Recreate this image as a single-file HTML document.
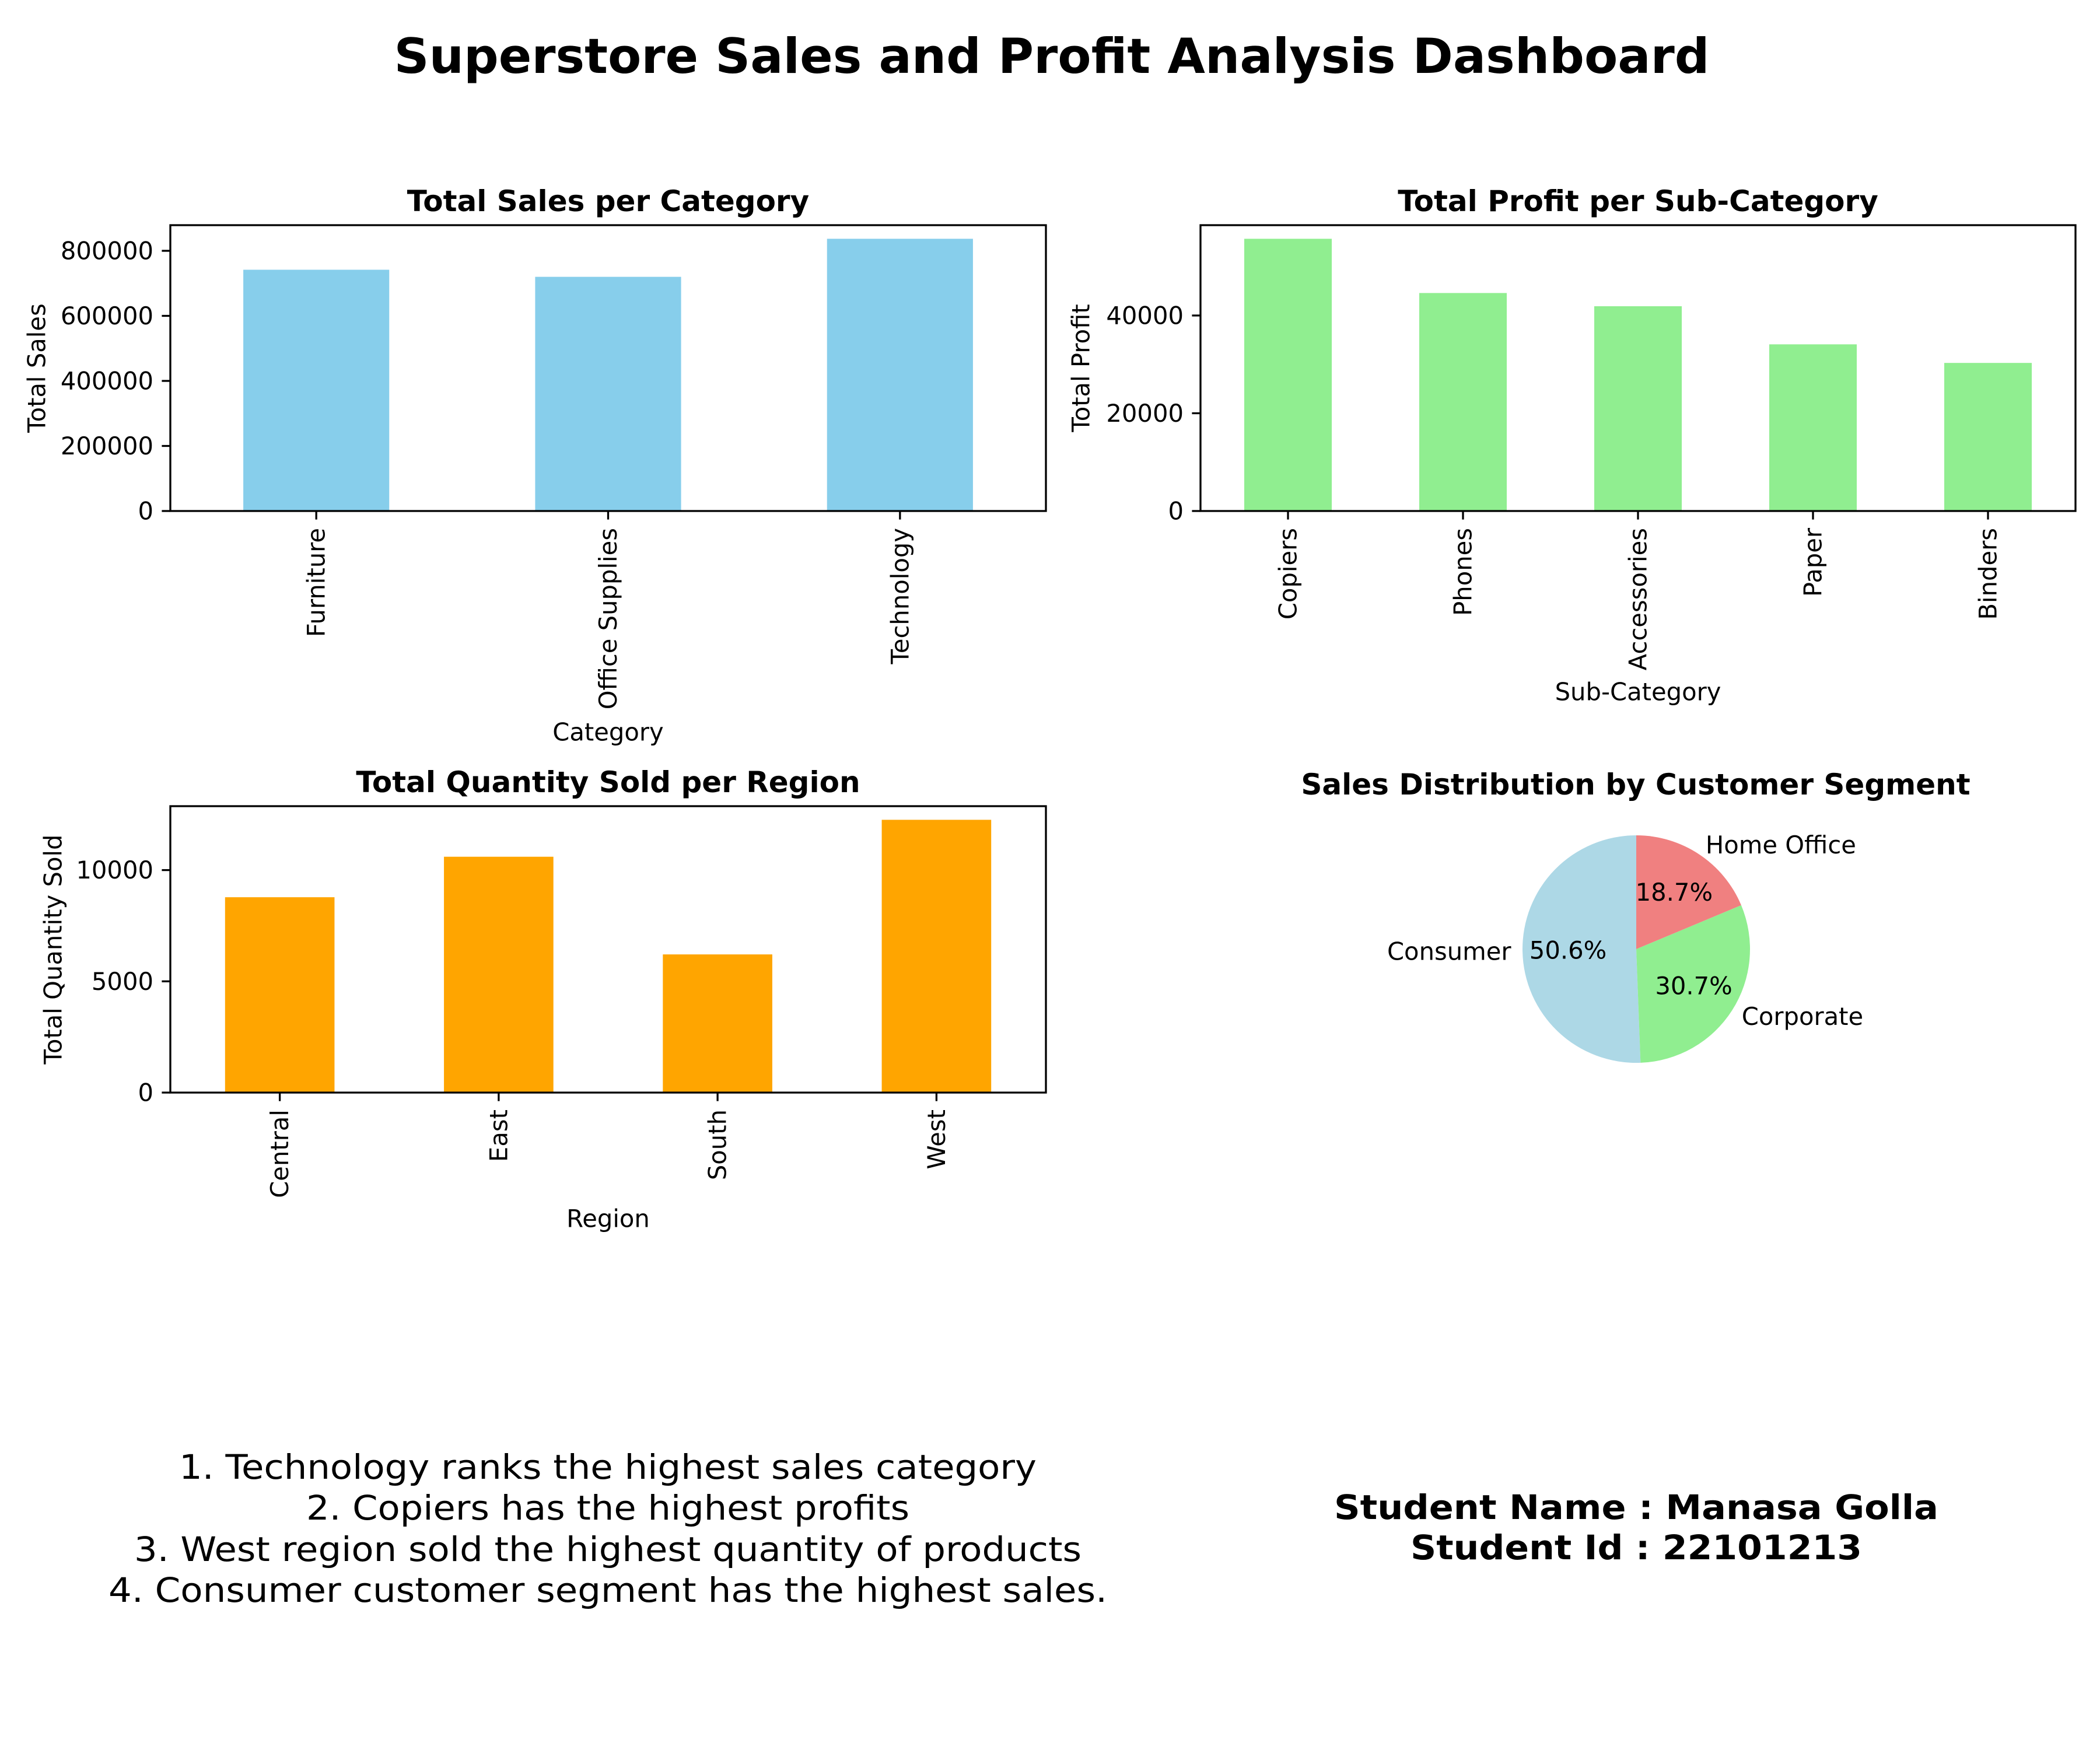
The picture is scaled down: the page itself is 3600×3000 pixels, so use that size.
<!DOCTYPE html>
<html><head><meta charset="utf-8"><style>
html,body{margin:0;padding:0;background:#fff}
svg{display:block;font-family:"DejaVu Sans","Liberation Sans",sans-serif}
</style></head><body>
<svg id="fig" width="3600" height="3000" viewBox="0 0 3600 3000" xmlns="http://www.w3.org/2000/svg">
<rect width="3600" height="3000" fill="#fff"/>
<text x="1803" y="125" font-size="83" font-weight="bold" text-anchor="middle" textLength="2255" lengthAdjust="spacingAndGlyphs">Superstore Sales and Profit Analysis Dashboard</text>
<g id="charts"></g>
<g font-size="58" text-anchor="middle">
<text x="1042" y="2535" textLength="1470" lengthAdjust="spacingAndGlyphs">1. Technology ranks the highest sales category</text>
<text x="1042" y="2605" textLength="1034" lengthAdjust="spacingAndGlyphs">2. Copiers has the highest profits</text>
<text x="1042" y="2676" textLength="1624" lengthAdjust="spacingAndGlyphs">3. West region sold the highest quantity of products</text>
<text x="1042" y="2746" textLength="1712" lengthAdjust="spacingAndGlyphs">4. Consumer customer segment has the highest sales.</text>
</g>
<g font-size="58" font-weight="bold" text-anchor="middle">
<text x="2805" y="2604" textLength="1036" lengthAdjust="spacingAndGlyphs">Student Name : Manasa Golla</text>
<text x="2805" y="2673" textLength="774" lengthAdjust="spacingAndGlyphs">Student Id : 22101213</text>
</g>
</svg>
<script>
const salesCategories = ["Furniture", "Office Supplies", "Technology"];
const salesValues = [741800, 720000, 837000];
const salesTicks = [0, 200000, 400000, 600000, 800000];

const profitCategories = ["Copiers", "Phones", "Accessories", "Paper", "Binders"];
const profitValues = [55700, 44600, 41900, 34100, 30300];
const profitTicks = [0, 20000, 40000];

const regionCategories = ["Central", "East", "South", "West"];
const regionValues = [8780, 10600, 6210, 12260];
const regionTicks = [0, 5000, 10000];

const segmentLabels = ["Consumer", "Corporate", "Home Office"];
const segmentValues = [50.6, 30.7, 18.7];

const NS = "http://www.w3.org/2000/svg";
const root = document.getElementById("charts");
function mk(tag, attrs, parent) {
  const e = document.createElementNS(NS, tag);
  for (const k in attrs) e.setAttribute(k, attrs[k]);
  (parent || root).appendChild(e);
  return e;
}

function barChart(o) {
  const g = mk("g", {});
  
  
  const ymax = Math.max(...o.values) * 1.05;
  const yScale = v => o.bottom - (v / ymax) * (o.bottom - o.top);
  const n = o.cats.length;
  const step = (o.right - o.left) / n;
  const xScale = i => o.left + step * (i + 0.5);
  o.values.forEach((v, i) => {
    const r = mk("rect", {x: xScale(i) - step * 0.25, y: yScale(v), width: step * 0.5, height: o.bottom - yScale(v), fill: o.color}, g);
    
    
  });
  const frame = mk("rect", {x: o.left, y: o.top, width: o.right - o.left, height: o.bottom - o.top, fill: "none", stroke: "#000", "stroke-width": 3.3}, g);
  
  
  o.ticks.forEach(t => {
    const y = yScale(t);
    mk("line", {x1: o.left - 14.6, x2: o.left, y1: y, y2: y, stroke: "#000", "stroke-width": 3.3}, g);
    const tx = mk("text", {x: o.left - 29, y: y, "font-size": 41.7, "text-anchor": "end", "dominant-baseline": "central"}, g);
    tx.textContent = String(t);
    
    
  });
  o.cats.forEach((c, i) => {
    const x = xScale(i);
    mk("line", {x1: x, x2: x, y1: o.bottom, y2: o.bottom + 14.6, stroke: "#000", "stroke-width": 3.3}, g);
    const tx = mk("text", {x: 0, y: 0, "font-size": 41.7, "text-anchor": "end", "dominant-baseline": "central", transform: `translate(${x},${o.bottom + 29}) rotate(-90)`}, g);
    tx.textContent = c;
    
    
  });
  const title = mk("text", {x: (o.left + o.right) / 2, y: o.top - 41, "font-size": 50, "font-weight": "bold", "text-anchor": "middle", "dominant-baseline": "central"}, g);
  title.textContent = o.title;
  
  
  const xl = mk("text", {x: (o.left + o.right) / 2, y: o.xlabelY, "font-size": 41.7, "text-anchor": "middle", "dominant-baseline": "central"}, g);
  xl.textContent = o.xlabel;
  
  
  const yl = mk("text", {x: 0, y: 0, "font-size": 41.7, "text-anchor": "middle", "dominant-baseline": "central", transform: `translate(${o.ylabelX},${(o.top + o.bottom) / 2}) rotate(-90)`}, g);
  yl.textContent = o.ylabel;
  
  
}

barChart({name: "sales-per-category-chart", cats: salesCategories, values: salesValues, ticks: salesTicks,
  left: 292, right: 1793, top: 386, bottom: 876, color: "#87ceeb",
  title: "Total Sales per Category", xlabel: "Category", ylabel: "Total Sales", xlabelY: 1255, ylabelX: 63});
barChart({name: "profit-per-subcategory-chart", cats: profitCategories, values: profitValues, ticks: profitTicks,
  left: 2058, right: 3558, top: 386, bottom: 876, color: "#90ee90",
  title: "Total Profit per Sub-Category", xlabel: "Sub-Category", ylabel: "Total Profit", xlabelY: 1186, ylabelX: 1853});
barChart({name: "quantity-per-region-chart", cats: regionCategories, values: regionValues, ticks: regionTicks,
  left: 292, right: 1793, top: 1382, bottom: 1873, color: "#ffa500",
  title: "Total Quantity Sold per Region", xlabel: "Region", ylabel: "Total Quantity Sold", xlabelY: 2089, ylabelX: 91});

// Pie
const pg = mk("g", {});


const cx = 2805, cy = 1627, R = 195;
const pieColors = ["#add8e6", "#90ee90", "#f08080"];
const total = segmentValues.reduce((a, b) => a + b, 0);
let ang = 90;
segmentValues.forEach((v, i) => {
  const sweep = v / total * 360;
  const a0 = ang * Math.PI / 180, a1 = (ang + sweep) * Math.PI / 180;
  const x0 = cx + R * Math.cos(a0), y0 = cy - R * Math.sin(a0);
  const x1 = cx + R * Math.cos(a1), y1 = cy - R * Math.sin(a1);
  const large = sweep > 180 ? 1 : 0;
  const p = mk("path", {d: `M${cx},${cy} L${x0},${y0} A${R},${R} 0 ${large} 0 ${x1},${y1} Z`, fill: pieColors[i]}, pg);
  
  
  const mid = (ang + sweep / 2) * Math.PI / 180;
  const lx = cx + 1.1 * R * Math.cos(mid), ly = cy - 1.1 * R * Math.sin(mid);
  const lt = mk("text", {x: lx, y: ly, "font-size": 41.7, "text-anchor": Math.cos(mid) >= 0 ? "start" : "end", "dominant-baseline": "central"}, pg);
  lt.textContent = segmentLabels[i];
  
  
  const px = cx + 0.6 * R * Math.cos(mid), py = cy - 0.6 * R * Math.sin(mid);
  const pt = mk("text", {x: px, y: py, "font-size": 41.7, "text-anchor": "middle", "dominant-baseline": "central"}, pg);
  pt.textContent = v.toFixed(1) + "%";
  
  
  ang += sweep;
});
const ptitle = mk("text", {x: 2804, y: 1345, "font-size": 50, "font-weight": "bold", "text-anchor": "middle", "dominant-baseline": "central"}, pg);
ptitle.textContent = "Sales Distribution by Customer Segment";


</script>
</body></html>
